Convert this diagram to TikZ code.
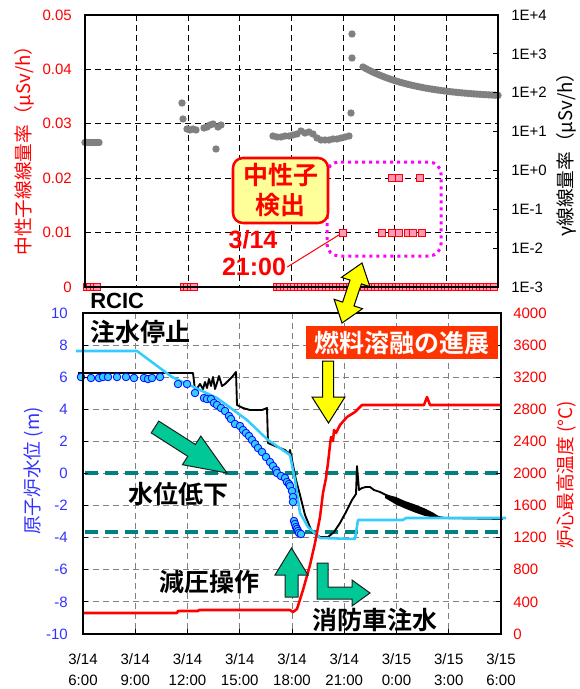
\documentclass[tikz,border=0pt]{standalone}
\usepackage{fontspec}
\setmainfont{Liberation Sans}
\newfontfamily\jp{Noto Sans CJK JP}[BoldFont={Noto Sans CJK JP Bold}]
\usepackage{amsmath}

\newcommand\lblfont{\fontsize{11.25}{15.75}\selectfont}
\newcommand\ttlfont{\jp\fontsize{14}{16}\selectfont}
\newcommand\notefont{\jp\bfseries\fontsize{18.75}{22.5}\selectfont}
\newcommand\numfont{\bfseries\fontsize{18.75}{22.5}\selectfont}

\tikzset{
  lbl/.style={inner sep=0.75pt, font=\lblfont},
  gridtop/.style={dash pattern={on 4.5pt off 3pt}, line width=0.75},
  gridbot/.style={color={rgb, 255:red, 128; green, 128; blue, 128 }, dash pattern={on 4.5pt off 3pt}, line width=0.75},
  frame/.style={line width=1.1},
  gdot/.style={fill={rgb, 255:red, 128; green, 128; blue, 128 }},
  nsq/.style={draw={rgb, 255:red, 255; green, 0; blue, 0 }, fill={rgb, 255:red, 255; green, 153; blue, 187 }, line width=0.5},
  bdot/.style={draw={rgb, 255:red, 0; green, 0; blue, 255 }, fill={rgb, 255:red, 51; green, 204; blue, 255 }, line width=0.6},
  refline/.style={color={rgb, 255:red, 0; green, 128; blue, 128 }, line width=2.6, dash pattern={on 9.75pt off 5.25pt}},
  gblock/.style={draw={rgb, 255:red, 30; green, 30; blue, 30 }, fill={rgb, 255:red, 0; green, 200; blue, 150 }, line width=0.75},
  yblock/.style={draw, fill={rgb, 255:red, 255; green, 255; blue, 0 }, line width=0.75},
}

\begin{document}
\begin{tikzpicture}[x=0.75pt,y=0.75pt,yscale=-1,xscale=1]
\useasboundingbox (0,0) rectangle (580,689);

%%%%%%%% upper chart: neutron / gamma dose rate
%Grid
\foreach \x in {136.6,188.3,239.9,291.5,343.1,394.8,446.4}
  \draw [gridtop] (\x,15) -- (\x,287) ;
\foreach \y in {69.4,123.8,178.2,232.6}
  \draw [gridtop] (85,\y) -- (498,\y) ;

%Gamma dose rate (grey dots)
\foreach \x in {85,87,...,99}
  \fill [gdot] (\x,142.5) circle (3.7) ;
\foreach \x/\y in {182/103,183/119,187/129,190/130,193/129,196/130,204/128,207/127,210/125,213/124,216/149,218/127,221/125,
  273/136,277/137,281/137,285/136,289/136,293/135,297/134,301/131,305/133,309/132,313/134,317/138,321/140,325/140,329/140,333/139,337/139,341/138,345/137,349/136,
  352/34,352/58,351/113}
  \fill [gdot] (\x,\y) circle (3.7) ;
\foreach \x in {363,366,...,498}
  \fill [gdot] (\x,{67+31*(1-exp(-(\x-363)/55))}) circle (3.7) ;

%Leader to first neutron count
\coordinate (n2100) at (342.7,232.6) ;
\draw (253,240) node (d314) [inner sep=0.75pt, text=red] {\numfont 3/14};
\draw (254,267) node (t2100) [inner sep=0.75pt, text=red] {\numfont 21:00};
\draw [color=red, line width=0.75] (t2100.east) -- (n2100) ;

%Neutron dose rate (pink squares)
\foreach \x in {86.5,90,...,97}
  \filldraw [nsq] (\x-3.5,283.5) rectangle ++(7,7) ;
\foreach \x in {183.5,187,...,194}
  \filldraw [nsq] (\x-3.5,283.5) rectangle ++(7,7) ;
\foreach \x in {276.5,280,...,495}
  \filldraw [nsq] (\x-3.5,283.5) rectangle ++(7,7) ;
\foreach \x/\y in {342.7/232.6,382/232.6,391.7/232.6,399/232.6,408/232.6,413/232.6,422/232.6,391.7/178.2,399/178.2,420/178.2}
  \filldraw [nsq] (\x-3.5,\y-3.5) rectangle ++(7,7) ;

%Frame and ticks
\draw [frame] (85,15) rectangle (498,287) ;
\foreach \i in {1,...,6}
  \draw [line width=0.75] (493,{15+38.857*\i}) -- (498,{15+38.857*\i}) ;

%Tick labels
\foreach \v [count=\i from 0] in {0,0.01,0.02,0.03,0.04,0.05}
  \draw (73,{287-54.4*\i}) node (tl\i) [lbl, anchor=east, text=red] {\v};
\foreach \e [count=\i from 0] in {-3,-2,-1,+0,+1,+2,+3,+4}
  \draw (510,{287-38.857*\i}) node (tr\i) [lbl, anchor=west] {1E\e};
\draw (24,146) node (ttln) [rotate=90, inner sep=0, text=red] {\ttlfont 中性子線線量率（μSv/h）};
\draw (566,150) node (ttlg) [rotate=90, inner sep=0] {\ttlfont γ線線量率（μSv/h）};

%Dotted frame round the detections
\draw [color={rgb, 255:red, 255; green, 0; blue, 255 }, line width=2.25, dash pattern={on 2.25pt off 3pt}, rounded corners=9] (327,162) rectangle (441,256) ;

%Callout
\draw (280.5,190.5) node (nbox) [draw=red, line width=1.9, fill={rgb, 255:red, 255; green, 255; blue, 153 }, rounded corners=7.5, minimum width=71.25pt, minimum height=48.75pt, align=center, text=red, font=\notefont] {中性子\\検出};

%%%%%%%% lower chart: water level / core temperature
%Grid
\foreach \x in {135.25,187.5,239.75,292,344.25,396.5,448.75}
  \draw [gridbot] (\x,313) -- (\x,634) ;
\foreach \i in {1,...,9}
  \draw [gridbot] (83,{634-32.1*\i}) -- (501,{634-32.1*\i}) ;

%Reference levels
\draw [refline] (85,473) -- (503,473) ;
\draw [refline] (85,532) -- (503,532) ;

%Measured level (black)
\draw [line width=1.4, line join=round] (78,373) -- (193,373) -- (195,390) -- (198,387) -- (200,384) -- (203,389) -- (205,382) -- (207,388) -- (209,379) -- (211,386) -- (213,377) -- (215,389) -- (217,383) -- (219,376) -- (222,386) -- (225,384) -- (229,380) -- (232,377) -- (236,372) -- (237,405) -- (243,408) -- (250,410) -- (262,410) -- (267,408) -- (268,443) -- (275,446) -- (285,450) -- (289,454) -- (290,450) -- (292,460) -- (296,480) -- (300,495) -- (305,515) -- (312,532) -- (320,537) -- (328,537) -- (334,532) -- (340,523) -- (346,512) -- (352,500) -- (356,494) -- (357,466) -- (359,490) -- (362,488) -- (366,487) -- (370,487) -- (374,490) -- (380,492) -- (388,496) -- (396,501) -- (405,505) -- (415,509) -- (425,513) -- (433,516) -- (445,518) -- (503,519) ;
\fill (385,494) -- (396,497) -- (405,501) -- (415,504.5) -- (425,508.5) -- (433,512.5) -- (440,517) -- (440,518.5) -- (425,516) -- (415,512.5) -- (405,508.5) -- (396,504.5) -- (385,498) -- cycle ;

%Analysed level (cyan)
\draw [color={rgb, 255:red, 51; green, 204; blue, 255 }, line width=1.9, line join=round] (76,351) -- (137,351) -- (172,377) -- (200,390) -- (217,398) -- (247,420) -- (268,440) -- (290,455) -- (295,480) -- (300,513) -- (308,527) -- (320,538) -- (355,539) -- (358,520) -- (403,520) -- (406,518) -- (506,518) ;

%Core temperature (red)
\draw [color=red, line width=1.9, line join=round] (83,613) -- (177,613) -- (178,611) -- (198,611) -- (199,610) -- (290,610) -- (293,612) -- (297,609) -- (303,590) -- (310,565) -- (315,543) -- (320,517) -- (323,493) -- (326,478) -- (328,463) -- (330,445) -- (331,437) -- (333,441) -- (334,430) -- (336,433) -- (340,425) -- (347,417) -- (355,412) -- (362,405) -- (424,405) -- (427,397) -- (430,405) -- (501,405) ;

%Level readings (blue circles)
\foreach \x/\y in {81/377,91/378,99/378,103/377,108/377,117/377,126/377,134/378,144/378,148/379,152/378,160/377,
  178/384,187/384,195/393,204/398,207/399,211/399,214/403,217/405,221/408,225/411,229/416,231/419,235/424,240/426,243/430,246/433,249/436,252/440,255/444,258/448,262/452,266/457,270/462,273/466,276/470,277/473,281/476,285/478,287/482,289/484,290/486,292/491,293/497,293/502,
  294/521,295/524,296/527,297/529,298/531,299/533,301/534}
  \filldraw [bdot] (\x,\y) circle (3.8) ;

%Frame and ticks
\draw [frame] (83,313) rectangle (501,634) ;
\foreach \i in {1,...,9} {
  \draw [line width=0.75] (83,{634-32.1*\i}) -- (88,{634-32.1*\i}) ;
  \draw [line width=0.75] (496,{634-32.1*\i}) -- (501,{634-32.1*\i}) ;
}
\foreach \x in {135.25,187.5,239.75,292,344.25,396.5,448.75}
  \draw [line width=0.75] (\x,629) -- (\x,634) ;

%Tick labels
\foreach \v [count=\i from 0] in {-10,-8,...,10}
  \draw (69,{634-32.1*\i}) node (bl\i) [lbl, anchor=east, text={rgb, 255:red, 51; green, 51; blue, 255 }] {\v};
\foreach \v [count=\i from 0] in {0,400,...,4000}
  \draw (512,{634-32.1*\i}) node (br\i) [lbl, anchor=west, text=red] {\v};
\foreach \dd/\tt [count=\i from 0] in {14/6:00,14/9:00,14/12:00,14/15:00,14/18:00,14/21:00,15/0:00,15/3:00,15/6:00}
  \draw ({83+52.25*\i},669.5) node (xl\i) [lbl, align=center] {3/\dd\\\tt};
\draw (34,471) node (ttll) [rotate=90, inner sep=0, text={rgb, 255:red, 51; green, 51; blue, 255 }] {\ttlfont 原子炉水位 (m)};
\draw (566,475) node (ttlt) [rotate=90, inner sep=0, text=red] {\ttlfont 炉心最高温度 (°C)};

%Block arrows
\draw [yblock] (342,323) -- (362.5,308.7) -- (354,305.9) -- (361.4,283.9) -- (369.9,286.7) -- (362,263) -- (341.5,277.3) -- (350,280.1) -- (342.6,302.1) -- (334.1,299.3) -- cycle ;
\draw [yblock] (322.5,361) -- (333.5,361) -- (333.5,397) -- (345,397) -- (328.5,423) -- (312,397) -- (322.5,397) -- cycle ;
\draw [gblock] (151.2,432.9) -- (158.8,421.1) -- (195.4,444.5) -- (200.8,436.1) -- (227,473) -- (182.4,464.7) -- (187.8,456.3) -- cycle ;
\draw [gblock] (285,597) -- (285,575) -- (275,575) -- (291.5,548) -- (308,575) -- (298,575) -- (298,597) -- cycle ;
\draw [gblock] (317,563) -- (328,563) -- (328,587) -- (352,587) -- (352,580) -- (370,593) -- (352,606) -- (352,599) -- (317,599) -- cycle ;

%Annotations
\draw (402,342.5) node (melt) [fill={rgb, 255:red, 255; green, 51; blue, 0 }, minimum width=144pt, minimum height=23.25pt, text=white, font=\notefont] {燃料溶融の進展};
\draw (90,301) node (rcic) [anchor=west, inner sep=0] {\bfseries\fontsize{16.5}{18}\selectfont RCIC};
\draw (90,332) node (stop) [anchor=west, inner sep=0, font=\notefont] {注水停止};
\draw (178,494) node (drop) [font=\notefont] {水位低下};
\draw (209,582) node (depr) [font=\notefont] {減圧操作};
\draw (374.5,620) node (fire) [font=\notefont] {消防車注水};

\end{tikzpicture}
\end{document}
